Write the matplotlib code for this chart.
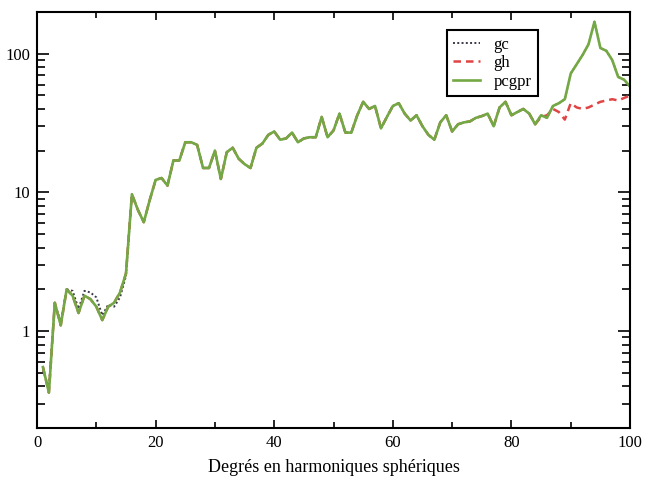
import numpy as np
import matplotlib
matplotlib.use("Agg")
import matplotlib.pyplot as plt
from matplotlib.ticker import LogLocator, FixedLocator, NullFormatter, FuncFormatter

plt.rcParams['font.family'] = ['Liberation Serif', 'DejaVu Serif']

# Spherical-harmonic degrees 1..100
degrees = list(range(1, 101))

# pcgpr spectrum, one value per degree
pcgpr = [
    0.55, 0.36, 1.6, 1.1, 2.0, 1.8, 1.35, 1.8, 1.7, 1.5,
    1.2, 1.5, 1.6, 1.9, 2.6, 9.7, 7.5, 6.1, 8.8, 12.3,
    12.7, 11.2, 17, 17, 23, 23, 22, 15, 15, 20,
    12.5, 19.5, 21, 17.5, 16, 15, 21, 22.5, 26, 27.5,
    24, 24.5, 27, 23, 24.5, 25, 25, 35, 25, 28,
    37, 27, 27, 36, 45, 40, 42, 29, 35, 42,
    44, 37, 33, 36, 30, 26, 24, 32, 36, 27.5,
    31, 32, 32.5, 34.5, 35.5, 37, 30, 41, 45, 36,
    38, 40, 37, 31, 36, 34.5, 42, 44, 47, 72,
    84, 98, 117, 170, 110, 105, 90, 68, 65, 58,
]

# gc differs from pcgpr only over the first 15 degrees
gc_low_degrees = [0.52, 0.39, 1.6, 1.15, 2.0, 1.95, 1.45, 1.95, 1.9, 1.75,
                  1.3, 1.55, 1.5, 1.75, 2.5]
gc = gc_low_degrees + pcgpr[15:]

# gh departs from pcgpr above degree 84
gh_high_degrees = [35, 36, 40, 38, 33.5, 44, 41, 40, 41, 43,
                   45, 46, 47, 46, 48, 50]
gh = pcgpr[:84] + gh_high_degrees

x_ticks = [0, 20, 40, 60, 80, 100]

fig = plt.figure(figsize=(6.45, 4.84), dpi=100)
ax = fig.add_axes([0.0574, 0.1157, 0.9194, 0.8595])

ax.plot(degrees, gc, linestyle=(0, (1, 1.2)), color='#3a3a48', lw=1.4, label='gc')
ax.plot(degrees, gh, linestyle=(0, (3, 2)), color='#e04444', lw=1.8, label='gh')
ax.plot(degrees, pcgpr, linestyle='-', color='#74a844', lw=1.9, label='pcgpr')

ax.set_yscale('log')
ax.set_xlim(0, 100)
ax.set_ylim(0.2, 200)

ax.xaxis.set_major_locator(FixedLocator(x_ticks))
ax.xaxis.set_minor_locator(FixedLocator([10, 30, 50, 70, 90]))
ax.yaxis.set_major_locator(LogLocator(base=10, numticks=10))
ax.yaxis.set_minor_locator(LogLocator(base=10, subs=np.arange(2, 10), numticks=20))
ax.yaxis.set_minor_formatter(NullFormatter())
ax.yaxis.set_major_formatter(FuncFormatter(lambda v, p: f"{v:g}"))

ax.tick_params(axis='both', which='both', direction='in', top=True, right=True,
               labelsize=12, width=1.2, colors='black', pad=5)
ax.tick_params(axis='x', which='major', length=6)
ax.tick_params(axis='x', which='minor', length=4)
ax.tick_params(axis='y', which='major', length=8.5)
ax.tick_params(axis='y', which='minor', length=5.5)

for s in ax.spines.values():
    s.set_linewidth(1.5)

ax.set_xlabel('Degrés en harmoniques sphériques', fontsize=13, labelpad=6)

leg = ax.legend(loc='upper right', bbox_to_anchor=(0.845, 0.957), fontsize=12,
                frameon=True, fancybox=False, edgecolor='black', framealpha=1,
                handlelength=1.6, handletextpad=0.8, borderpad=0.4,
                labelspacing=0.15, borderaxespad=0)
leg.get_frame().set_linewidth(1.5)

fig.savefig('out.png', dpi=100)
